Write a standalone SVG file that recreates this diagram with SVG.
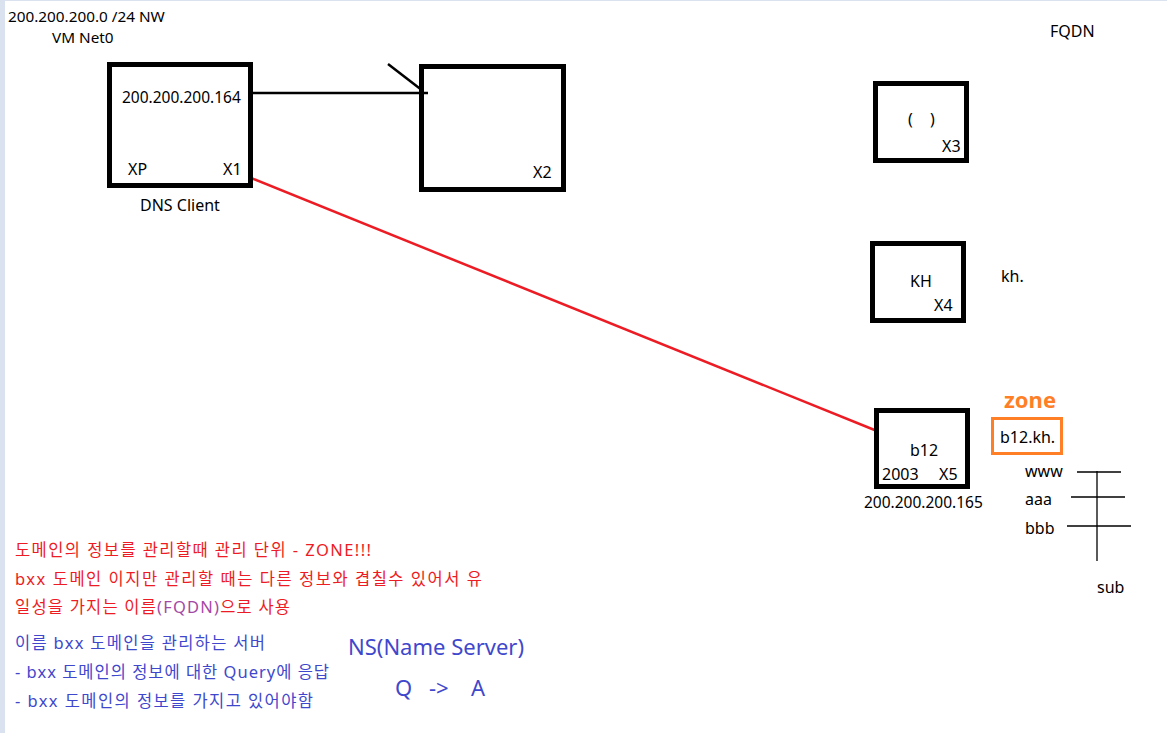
<svg xmlns="http://www.w3.org/2000/svg" width="1167" height="733" viewBox="0 0 1167 733">
<style>
text{font-family:"Noto Sans","Noto Sans CJK KR",sans-serif;font-size:16px;fill:#000}
.box{fill:none;stroke:#000;stroke-width:5}
.kr{font-size:16.5px}
.red{fill:#ed1c24}
.blue{fill:#3f48cc}
.big{font-size:22px;fill:#3f48cc}
</style>
<rect x="0" y="0" width="1167" height="733" fill="#fff"/>
<rect x="0" y="0" width="5" height="733" fill="#d9e2ee"/>
<rect x="0" y="0" width="1167" height="1" fill="#d9e2ee"/>
<text x="8" y="22" style="font-size:15.3px">200.200.200.0 /24 NW</text>
<text x="52" y="42.5" style="font-size:15.3px">VM Net0</text>
<g id="connectors" fill="none">
<line x1="252" y1="93" x2="428" y2="93" stroke="#000" stroke-width="2.5"/>
<line x1="388" y1="64" x2="423" y2="91" stroke="#000" stroke-width="2.5"/>
<line x1="251" y1="178" x2="877" y2="431" stroke="#ed1c24" stroke-width="2.5"/>
</g>
<g id="x1">
<rect class="box" x="109.5" y="64.5" width="141" height="121"/>
<text x="122" y="103" style="font-size:15.5px">200.200.200.164</text>
<text x="128" y="175">XP</text>
<text x="223" y="175">X1</text>
<text x="140" y="211">DNS Client</text>
</g>
<g id="x2">
<rect class="box" x="421.5" y="66.5" width="142" height="123"/>
<text x="533" y="178">X2</text>
</g>
<g id="fqdn"><text x="1050" y="37">FQDN</text></g>
<g id="x3">
<rect class="box" x="875.5" y="83.5" width="91" height="77"/>
<text x="908" y="125">(</text>
<text x="930" y="125">)</text>
<text x="942" y="152">X3</text>
</g>
<g id="x4">
<rect class="box" x="872.5" y="243.5" width="91" height="77"/>
<text x="910" y="287">KH</text>
<text x="934" y="311">X4</text>
</g>
<g id="kh"><text x="1001" y="282">kh.</text></g>
<g id="x5">
<rect class="box" x="876.5" y="410.5" width="91" height="76"/>
<text x="910" y="456">b12</text>
<text x="882" y="480">2003</text>
<text x="939" y="480">X5</text>
<text x="864" y="508" style="font-size:15.5px">200.200.200.165</text>
</g>
<g id="zone">
<text x="1004" y="408" style="font-size:22px;font-weight:bold;fill:#ff7f27">zone</text>
<rect x="992.5" y="418.5" width="69" height="35" fill="none" stroke="#ff7f27" stroke-width="3"/>
<text x="1000" y="443">b12.kh.</text>
</g>
<g id="tree">
<text x="1025" y="477">www</text>
<text x="1025" y="505">aaa</text>
<text x="1025" y="534">bbb</text>
<text x="1097" y="593">sub</text>
<g stroke="#000" stroke-width="1.3">
<line x1="1097" y1="471" x2="1097" y2="561"/>
<line x1="1077" y1="472" x2="1121" y2="472"/>
<line x1="1071" y1="497" x2="1125" y2="497"/>
<line x1="1067" y1="526" x2="1131" y2="526"/>
</g>
</g>
<g id="notes-red">
<text class="kr red" x="15" y="556" textLength="356" lengthAdjust="spacing">도메인의 정보를 관리할때 관리 단위 - ZONE!!!</text>
<text class="kr red" x="15" y="585" textLength="467" lengthAdjust="spacing">bxx 도메인 이지만 관리할 때는 다른 정보와 겹칠수 있어서 유</text>
<text class="kr red" x="15" y="613" textLength="275" lengthAdjust="spacing">일성을 가지는 이름<tspan style="fill:#a349a4">(FQDN)</tspan>으로 사용</text>
</g>
<g id="notes-blue">
<text class="kr blue" x="15" y="649" textLength="250" lengthAdjust="spacing">이름 bxx 도메인을 관리하는 서버</text>
<text class="kr blue" x="15" y="678" textLength="314" lengthAdjust="spacing">- bxx 도메인의 정보에 대한 Query에 응답</text>
<text class="kr blue" x="15" y="707" textLength="298" lengthAdjust="spacing">- bxx 도메인의 정보를 가지고 있어야함</text>
</g>
<g id="ns">
<text class="big" x="348" y="655">NS(Name Server)</text>
<text class="big" x="395" y="696">Q</text>
<text class="big" x="429" y="696">-&gt;</text>
<text class="big" x="471" y="696">A</text>
</g>
</svg>
